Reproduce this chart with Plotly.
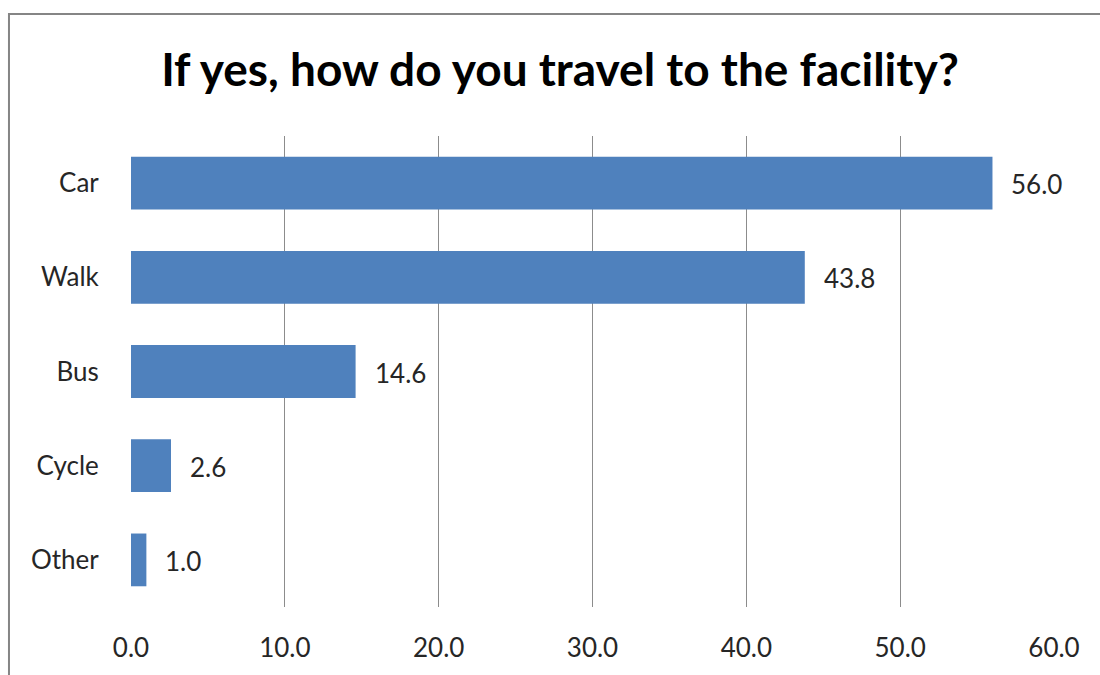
import plotly.graph_objects as go

# Survey responses: travel mode to the facility (percent)
modes = ["Car", "Walk", "Bus", "Cycle", "Other"]
percent = [56.0, 43.8, 14.6, 2.6, 1.0]
x_ticks = [0, 10, 20, 30, 40, 50, 60]
x_tick_text = ["0.0", "10.0", "20.0", "30.0", "40.0", "50.0", "60.0"]

title_text = "If yes, how do you travel to the facility?"
bar_color = "#4F81BD"
grid_color = "#8C8C8C"
text_color = "#262626"
font_family = "Lato, 'Open Sans', sans-serif"

fig = go.Figure()
fig.add_trace(go.Bar(
    x=percent,
    y=modes,
    orientation="h",
    width=0.56,
    marker=dict(color=bar_color, line=dict(width=0)),
    hoverinfo="x+y",
))

# value labels just to the right of each bar end
for m, v in zip(modes, percent):
    fig.add_annotation(
        x=v, y=m, xref="x", yref="y",
        text=f"{v:.1f}", showarrow=False,
        xanchor="left", yanchor="middle", xshift=17, yshift=-1,
        font=dict(family=font_family, size=26, color=text_color),
    )

# outer chart frame
fig.add_shape(
    type="rect", xref="paper", yref="paper",
    x0=-0.1322, x1=1.2, y0=-0.3, y1=1.259,
    line=dict(color="#858585", width=2), fillcolor="rgba(0,0,0,0)",
    layer="below",
)

fig.update_layout(
    width=1100, height=675,
    margin=dict(l=131, r=46, t=136, b=68),
    paper_bgcolor="white", plot_bgcolor="white",
    showlegend=False,
    title=dict(
        text=f"<b>{title_text}</b>",
        x=560 / 1100, xanchor="center",
        y=1 - 70 / 675, yanchor="middle",
        font=dict(family=font_family, size=46, color="#000000"),
    ),
    font=dict(family=font_family, color=text_color),
)
fig.update_xaxes(
    range=[0, 60],
    tickvals=x_ticks, ticktext=x_tick_text,
    showgrid=True, gridcolor=grid_color, gridwidth=1,
    zeroline=False, showline=False,
    ticks="outside", ticklen=18, tickcolor="rgba(0,0,0,0)",
    tickfont=dict(family=font_family, size=26, color=text_color),
    fixedrange=True,
)
fig.update_yaxes(
    categoryorder="array", categoryarray=modes,
    autorange="reversed",
    showgrid=False, zeroline=False, showline=False,
    ticks="outside", ticklen=26, tickcolor="rgba(0,0,0,0)",
    tickfont=dict(family=font_family, size=26, color=text_color),
    fixedrange=True,
)

fig.write_html("out.html")
